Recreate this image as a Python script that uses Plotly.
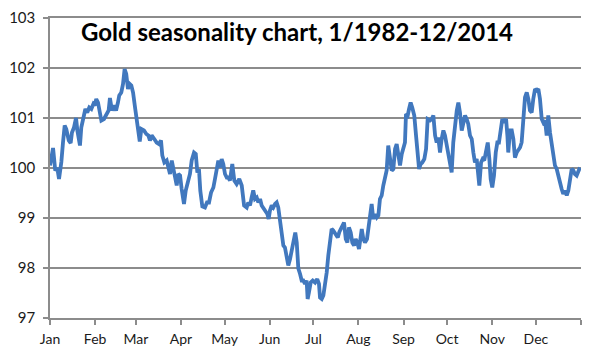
import plotly.graph_objects as go

# Day of year (0 = Jan 1) and seasonal index value
days = [0.0, 2.1, 3.6, 5.0, 6.2, 7.8, 8.9, 10.1, 11.2, 12.9, 14.2, 15.1, 16.5, 17.9, 18.8, 19.7, 20.6, 21.5, 22.9,
        24.3, 25.6, 27.0, 28.4, 29.8, 30.7, 31.8, 33.0, 34.2, 35.3, 37.1, 38.7, 40.3, 41.2, 42.6, 44.0, 45.4, 46.7,
        47.6, 49.0, 50.2, 51.3, 52.4, 53.6, 54.8, 55.9, 57.1, 58.6, 60.0, 61.7, 62.8, 64.6, 66.2, 67.6, 68.7, 69.9,
        71.7, 73.3, 74.9, 76.3, 77.2, 78.6, 80.2, 81.3, 82.5, 83.7, 84.8, 85.9, 87.1, 88.2, 89.4, 90.5, 92.1, 93.3,
        94.7, 96.2, 97.4, 99.0, 100.2, 101.3, 102.4, 103.3, 104.7, 106.5, 107.9, 109.3, 110.7, 112.3, 113.4, 114.6,
        115.7, 116.9, 118.0, 119.1, 120.3, 121.5, 122.6, 123.7, 125.3, 126.7, 128.3, 130.1, 131.8, 133.4, 135.2,
        136.3, 137.5, 138.6, 139.7, 140.9, 142.1, 143.2, 144.4, 145.5, 147.1, 148.5, 149.4, 150.3, 151.2, 152.4,
        153.5, 154.7, 155.8, 156.9, 158.1, 159.3, 160.4, 161.5, 162.7, 163.8, 165.0, 166.1, 167.2, 168.6, 169.6,
        170.7, 171.9, 173.0, 174.1, 175.3, 176.4, 177.1, 178.0, 179.2, 180.6, 182.2, 183.7, 184.9, 185.6, 186.8,
        187.9, 189.0, 190.2, 191.3, 192.5, 193.6, 194.7, 196.4, 197.8, 198.9, 200.9, 202.1, 203.3, 204.4, 205.5,
        206.7, 207.8, 209.0, 210.1, 211.2, 212.4, 213.3, 214.3, 215.4, 216.5, 217.9, 218.8, 220.0, 221.1, 222.2,
        223.4, 224.6, 225.7, 226.8, 228.0, 229.1, 230.3, 231.4, 232.5, 233.7, 234.9, 236.0, 237.2, 238.3, 239.4,
        240.6, 241.8, 242.9, 244.0, 244.7, 245.9, 246.8, 247.9, 249.0, 250.4, 251.6, 252.8, 253.7, 254.8, 255.9,
        257.3, 258.5, 259.6, 261.2, 262.4, 263.5, 264.7, 265.8, 266.9, 268.1, 269.2, 270.4, 271.5, 272.7, 273.8,
        275.0, 276.1, 277.2, 278.4, 279.6, 280.7, 281.8, 283.0, 284.1, 285.3, 286.4, 287.5, 288.7, 289.9, 291.0,
        292.1, 293.3, 294.4, 295.1, 296.3, 297.4, 298.5, 299.7, 300.9, 302.0, 302.9, 304.0, 305.2, 306.4, 307.5,
        308.6, 309.8, 310.9, 312.1, 313.5, 314.4, 315.0, 316.2, 317.4, 318.5, 319.6, 320.8, 321.9, 323.1, 324.2,
        325.3, 326.5, 327.7, 328.8, 329.9, 331.1, 332.2, 333.4, 334.6, 335.7, 336.8, 338.0, 339.1, 340.3, 341.4,
        342.5, 343.7, 344.9, 346.0, 347.1, 348.3, 349.4, 350.6, 351.7, 352.8, 354.0, 355.2, 356.3, 357.4, 358.6,
        359.7, 360.8, 362.0, 363.1, 364.3]

values = [100.05, 100.4, 99.95, 100.0, 99.78, 100.12, 100.5, 100.85, 100.78, 100.55, 100.5, 100.71, 100.81, 101.0,
          100.75, 100.61, 100.45, 100.81, 101.01, 101.18, 101.11, 101.21, 101.18, 101.28, 101.25, 101.38, 101.31,
          101.11, 100.95, 100.98, 101.05, 101.15, 101.4, 101.15, 101.25, 101.15, 101.31, 101.45, 101.51, 101.68,
          101.98, 101.88, 101.58, 101.68, 101.65, 101.51, 101.18, 100.91, 100.53, 100.78, 100.75, 100.68, 100.65,
          100.55, 100.65, 100.58, 100.51, 100.48, 100.55, 100.25, 100.11, 100.15, 100.05, 99.88, 100.15, 99.98,
          99.75, 99.65, 99.88, 99.85, 99.58, 99.28, 99.55, 99.71, 99.88, 100.15, 100.31, 100.28, 99.91, 99.98,
          99.55, 99.23, 99.21, 99.31, 99.31, 99.51, 99.61, 99.78, 99.98, 100.15, 100.01, 100.18, 100.08, 99.88,
          99.81, 99.81, 99.75, 100.08, 99.75, 99.68, 99.78, 99.65, 99.25, 99.21, 99.31, 99.25, 99.41, 99.55, 99.38,
          99.41, 99.31, 99.38, 99.25, 99.18, 99.15, 99.08, 98.98, 99.15, 99.25, 99.21, 99.28, 99.31, 99.21, 98.98,
          98.71, 98.45, 98.41, 98.25, 98.05, 98.18, 98.35, 98.51, 98.71, 98.51, 97.99, 97.88, 97.75, 97.75, 97.68,
          97.75, 97.38, 97.51, 97.71, 97.75, 97.71, 97.78, 97.68, 97.41, 97.38, 97.45, 97.65, 97.91, 98.25, 98.58,
          98.78, 98.75, 98.65, 98.61, 98.72, 98.85, 98.91, 98.58, 98.51, 98.81, 98.71, 98.51, 98.45, 98.58, 98.51,
          98.38, 98.58, 98.78, 98.58, 98.51, 98.58, 98.78, 98.98, 99.28, 98.98, 99.08, 99.01, 99.05, 99.38, 99.45,
          99.65, 99.78, 99.95, 100.45, 100.11, 99.95, 99.98, 100.38, 100.48, 100.31, 100.05, 100.28, 100.41, 100.51,
          101.08, 101.05, 101.18, 101.31, 101.21, 101.05, 100.65, 100.18, 99.98, 100.08, 100.11, 100.18, 100.38,
          100.98, 100.95, 100.98, 101.05, 100.65, 100.51, 100.61, 100.31, 100.58, 100.75, 100.65, 100.45, 100.25,
          100.05, 99.91, 100.51, 100.91, 101.15, 101.31, 101.11, 100.75, 100.88, 101.05, 100.98, 100.88, 100.65,
          100.58, 100.31, 100.11, 100.18, 99.88, 99.65, 100.11, 100.18, 100.15, 100.31, 100.51, 100.18, 99.78,
          99.61, 99.85, 100.31, 100.51, 100.51, 100.78, 100.98, 100.91, 100.98, 100.65, 100.31, 100.75, 100.75,
          100.58, 100.21, 100.31, 100.35, 100.41, 100.51, 101.11, 101.41, 101.51, 101.38, 101.15, 101.11, 101.38,
          101.58, 101.55, 101.58, 101.38, 100.98, 100.91, 100.95, 100.65, 101.05, 100.71, 100.51, 100.25, 100.05,
          99.98, 99.88, 99.71, 99.58, 99.48, 99.55, 99.45, 99.55, 99.71, 99.98, 99.95, 99.88, 99.85, 99.91, 100.01]

month_starts = [0, 31, 59, 90, 120, 151, 181, 212, 243, 273, 304, 334, 365]
month_labels = ["Jan", "Feb", "Mar", "Apr", "May", "Jun", "Jul", "Aug", "Sep", "Oct", "Nov", "Dec", ""]
y_ticks = [97, 98, 99, 100, 101, 102, 103]

title_text = "Gold seasonality chart, 1/1982-12/2014"

fig = go.Figure()
fig.add_trace(go.Scatter(x=days, y=values, mode="lines",
                         line=dict(color="#4178BE", width=3.8),
                         showlegend=False, hoverinfo="skip"))

grid_color = "#8C8C8C"
fig.update_layout(
    width=580, height=342,
    margin=dict(l=42, r=7, t=10, b=32),
    paper_bgcolor="white", plot_bgcolor="white",
    font=dict(family="Lato, Noto Sans, sans-serif", size=14, color="#1a1a1a"),
    xaxis=dict(range=[0, 365], tickmode="array", tickvals=month_starts, ticktext=month_labels,
               showgrid=False, zeroline=False, showline=True, mirror=True,
               linecolor=grid_color, linewidth=1.5,
               ticks="outside", ticklen=5, tickcolor=grid_color, tickwidth=1.5, ticklabelstandoff=2,
               automargin=False, ticklabeloverflow="allow"),
    yaxis=dict(range=[97, 103], tickmode="array", tickvals=y_ticks,
               showgrid=True, gridcolor=grid_color, gridwidth=1.5, zeroline=False,
               showline=True, linecolor=grid_color, linewidth=1.5, tickfont=dict(size=15),
               ticks="outside", ticklen=5, tickcolor=grid_color, tickwidth=1.5, automargin=False,
               ticklabelstandoff=5, ticklabeloverflow="allow"),
    annotations=[dict(text="<b>" + title_text + "</b>", xref="paper", yref="paper",
                      x=0.465, y=0.955, xanchor="center", yanchor="middle", showarrow=False,
                      font=dict(family="Lato, Noto Sans, sans-serif", size=24, color="black"))],
)

fig.write_html("out.html")
